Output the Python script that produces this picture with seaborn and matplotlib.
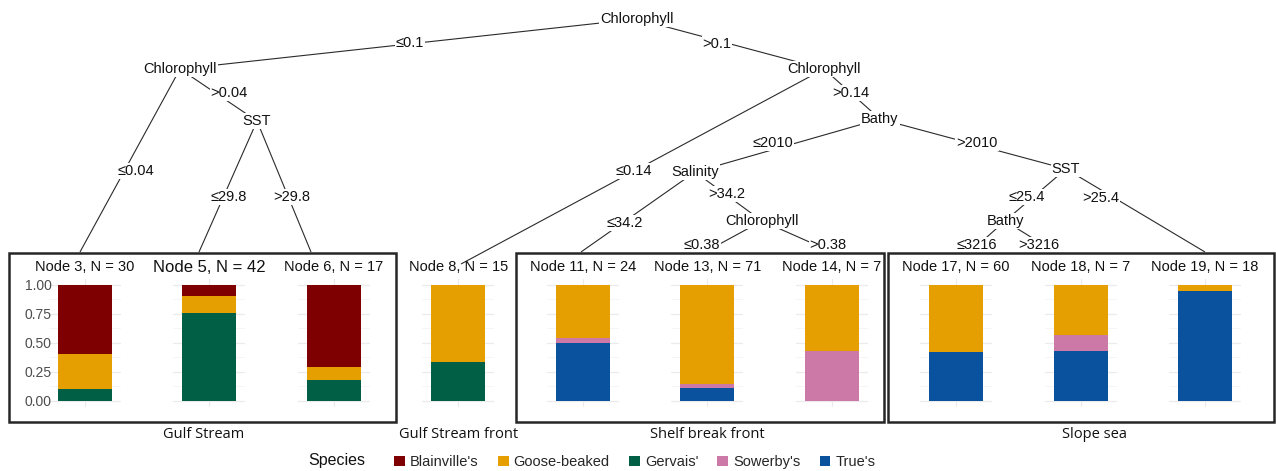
import matplotlib
matplotlib.use("Agg")
import numpy as np
import pandas as pd
import seaborn as sns
import matplotlib.pyplot as plt
from matplotlib.patches import Rectangle, Patch

# ---------------------------------------------------------------- data
species = ["Blainville's", "Goose-beaked", "Gervais'", "Sowerby's", "True's"]
species_colors = ["#7F0000", "#E69F00", "#005F44", "#CC79A7", "#0A529E"]

node_ids = [3, 5, 6, 8, 11, 13, 14, 17, 18, 19]
blainville = [18, 4, 12, 0, 0, 0, 0, 0, 0, 0]
goose_beaked = [9, 6, 2, 10, 11, 61, 4, 35, 3, 1]
gervais = [3, 32, 3, 5, 0, 0, 0, 0, 0, 0]
sowerby = [0, 0, 0, 0, 1, 2, 3, 0, 1, 0]
trues = [0, 0, 0, 0, 12, 8, 0, 25, 3, 17]

regions = ["Gulf Stream", "Gulf Stream front", "Shelf break front", "Slope sea"]

y_ticks = [0.0, 0.25, 0.50, 0.75, 1.0]
y_tick_labels = ["0.00", "0.25", "0.50", "0.75", "1.00"]

# split variables of the inner nodes
inner_nodes = {
    "n1": "Chlorophyll", "n2": "Chlorophyll", "n4": "SST", "n7": "Chlorophyll",
    "n9": "Bathy", "n10": "Salinity", "n12": "Chlorophyll", "n15": "SST",
    "n16": "Bathy",
}
# (parent, child, split rule)
edges = [
    ("n1", "n2", "\u22640.1"), ("n1", "n7", ">0.1"),
    ("n2", "t3", "\u22640.04"), ("n2", "n4", ">0.04"),
    ("n4", "t5", "\u226429.8"), ("n4", "t6", ">29.8"),
    ("n7", "t8", "\u22640.14"), ("n7", "n9", ">0.14"),
    ("n9", "n10", "\u22642010"), ("n9", "n15", ">2010"),
    ("n10", "t11", "\u226434.2"), ("n10", "n12", ">34.2"),
    ("n12", "t13", "\u22640.38"), ("n12", "t14", ">0.38"),
    ("n15", "n16", "\u226425.4"), ("n15", "t19", ">25.4"),
    ("n16", "t17", "\u22643216"), ("n16", "t18", ">3216"),
]

# ---------------------------------------------------------------- layout (pixels, y downwards)
W, H = 1276, 471
node_xy = {
    "n1": (637, 19), "n2": (180, 69), "n4": (257, 121), "n7": (824, 69),
    "n9": (880, 119), "n10": (695, 172), "n12": (762, 221), "n15": (1066, 169),
    "n16": (1005, 221),
    "t3": (80, 252), "t5": (199, 252), "t6": (311, 252), "t8": (461, 264),
    "t11": (581, 252), "t13": (705, 252), "t14": (832, 252), "t17": (970, 252),
    "t18": (1055, 252), "t19": (1205, 252),
}
edge_label_xy = [
    (410, 43), (717, 44), (136, 171), (229, 93), (229, 197), (292, 197),
    (634, 171), (851, 93), (773, 143), (977, 143), (625, 223), (727, 194),
    (702, 245), (828, 245), (1027, 197), (1101, 198), (977, 245), (1039, 245),
]
panel_centers = [85 + i * 124.45 for i in range(len(node_ids))]
panel_half_w = 36
panel_top, panel_bottom = 279.2, 406.5
region_boxes = [(9, 253, 396, 422), None, (516, 253, 884, 422), (888, 253, 1274, 422)]
region_label_x = [204, 459, 707, 1094]

# ---------------------------------------------------------------- figure
sns.set_theme(style="white")
plt.rcParams["font.family"] = ["Liberation Sans", "DejaVu Sans"]

fig = plt.figure(figsize=(W / 100, H / 100), dpi=100)
fig.patch.set_facecolor("white")
base = fig.add_axes([0, 0, 1, 1])
base.set_xlim(0, W)
base.set_ylim(H, 0)
base.axis("off")

# tree edges with their split labels
for (parent, child, rule), (lx, ly) in zip(edges, edge_label_xy):
    (x1, y1), (x2, y2) = node_xy[parent], node_xy[child]
    base.plot([x1, x2], [y1, y2], color="#2a2a2a", lw=0.8, zorder=1,
              solid_capstyle="butt")
    base.text(lx, ly, rule, ha="center", va="center", fontsize=10.5,
              color="#111111", zorder=2,
              bbox=dict(facecolor="white", edgecolor="none", pad=0.6))

for key, name in inner_nodes.items():
    x, y = node_xy[key]
    base.text(x, y, name, ha="center", va="center", fontsize=10.5,
              color="#111111", zorder=2,
              bbox=dict(facecolor="white", edgecolor="none", pad=0.8))

# frames around the regions
for box in region_boxes:
    if box is None:
        continue
    x0, y0, x1, y1 = box
    base.add_patch(Rectangle((x0, y0), x1 - x0, y1 - y0, facecolor="white",
                             edgecolor="#262626", lw=1.8, zorder=3))

for name, x in zip(regions, region_label_x):
    base.text(x, 434, name, ha="center", va="center", fontsize=10.5,
              family=["Open Sans", "DejaVu Sans"], color="#111111", zorder=4)

# ---------------------------------------------------------------- terminal node bar charts
counts = pd.DataFrame({
    "Blainville's": blainville, "Goose-beaked": goose_beaked, "Gervais'": gervais,
    "Sowerby's": sowerby, "True's": trues,
}, index=node_ids)
color_of = dict(zip(species, species_colors))
stack_bottom_up = species[::-1]

for i, (node, cx) in enumerate(zip(node_ids, panel_centers)):
    row = counts.loc[node]
    n_obs = int(row.sum())
    ax = fig.add_axes([(cx - panel_half_w) / W, (H - panel_bottom) / H,
                       2 * panel_half_w / W, (panel_bottom - panel_top) / H])
    ax.set_facecolor("none")
    cum = row[stack_bottom_up].cumsum() / n_obs
    label = f"Node {node}"
    # tallest layer first, lower layers drawn over it
    for sp in species:
        if row[sp] == 0:
            continue
        sns.barplot(x=[label], y=[cum[sp]], color=color_of[sp], width=0.9,
                    saturation=1, errorbar=None, ax=ax, linewidth=0)
    ax.set_xlim(-0.6, 0.6)
    ax.set_ylim(-0.05, 1.05)
    ax.set_yticks(y_ticks)
    ax.set_yticks(np.arange(0.125, 1.0, 0.25), minor=True)
    ax.set_xticks([0])
    ax.set_xticklabels([""])
    ax.grid(True, which="major", color="#EBEBEB", lw=0.9)
    ax.grid(True, which="minor", axis="y", color="#F2F2F2", lw=0.5)
    ax.set_axisbelow(True)
    for s in ax.spines.values():
        s.set_visible(False)
    ax.tick_params(length=0, pad=1, which="both")
    ax.tick_params(axis="y", pad=-2)
    ax.set_xlabel("")
    ax.set_ylabel("")
    if i == 0:
        ax.set_yticklabels(y_tick_labels, fontsize=10, color="#4D4D4D")
    else:
        ax.set_yticklabels([""] * len(y_ticks))
    size = 12 if node == 5 else 10.5
    base.text(cx, 267, f"Node {node}, N = {n_obs}", ha="center", va="center",
              fontsize=size, color="#111111", zorder=5)

# ---------------------------------------------------------------- legend
handles = [Patch(facecolor=c, edgecolor="none") for c in species_colors]
fig.legend(handles, species, ncol=5, loc="center left",
           bbox_to_anchor=(394 / W, 1 - 462 / H), frameon=False, fontsize=10.5,
           handlelength=0.75, handleheight=0.75, handletextpad=0.35,
           columnspacing=1.3, borderpad=0, borderaxespad=0)
base.text(308, 461, "Species", ha="left", va="center", fontsize=11.5,
          color="#111111")

fig.savefig("out.png", dpi=100, facecolor="white")
